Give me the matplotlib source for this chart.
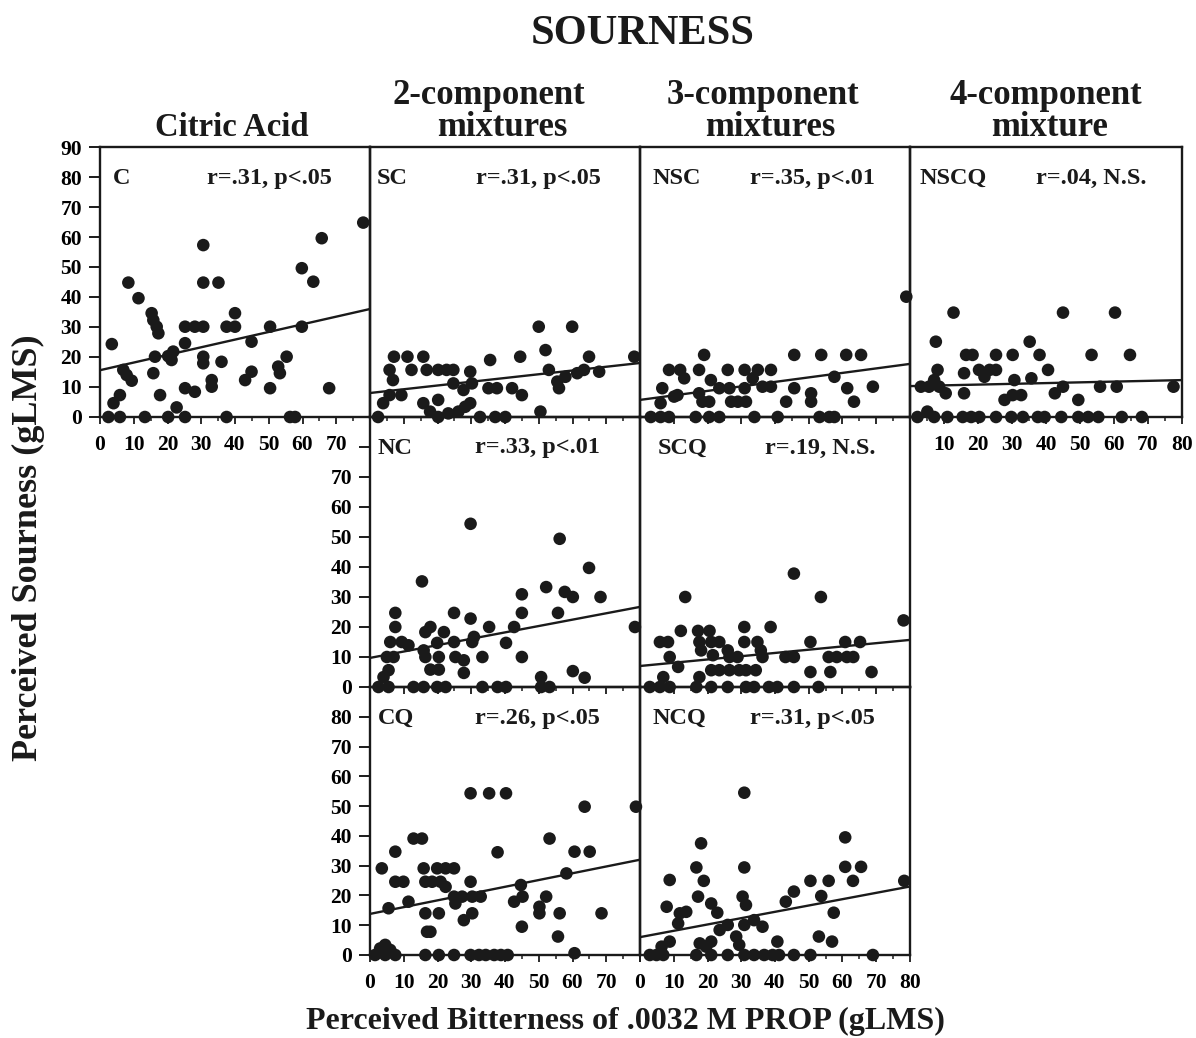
import matplotlib
matplotlib.use("Agg")
import matplotlib.pyplot as plt
from matplotlib.ticker import MultipleLocator

plt.rcParams['font.family'] = ['Liberation Serif', 'DejaVu Serif']
plt.rcParams['font.weight'] = 'bold'

# ---------------- data ----------------
panel_names = ["C", "SC", "NSC", "NSCQ", "NC", "SCQ", "CQ", "NCQ"]
r_texts = ["r=.31, p<.05", "r=.31, p<.05", "r=.35, p<.01", "r=.04, N.S.",
           "r=.33, p<.01", "r=.19, N.S.", "r=.26, p<.05", "r=.31, p<.05"]
# regression line value at x=0 and at x=80
fit_start = [15.6, 8.0, 5.7, 10.3, 9.7, 7.0, 13.8, 6.0]
fit_end = [36.0, 18.0, 17.7, 12.3, 26.7, 15.7, 32.0, 23.0]

column_titles = ["Citric Acid", "2-component", "mixtures", "3-component", "mixtures",
                 "4-component", "mixture"]

c_x = [3.5, 4, 5.9, 8.4, 6.9, 7.9, 9.4, 11.4, 15.3, 15.8, 16.8, 17.3, 16.3, 15.8, 17.8,
       20.2, 21.2, 21.7, 22.7, 25.2, 25.2, 25.2, 28.1, 28.1, 30.6, 30.6, 30.6, 30.6, 30.6,
       33.1, 33.1, 35.1, 36, 37.5, 40, 40, 43, 44.9, 44.9, 50.4, 50.4, 52.8, 53.3, 55.3,
       59.8, 59.8, 63.2, 65.7, 67.9, 78, 2.5, 5.9, 13.3, 20.2, 25.2, 37.5, 56.3, 57.8]
c_y = [24.3, 4.6, 7.3, 44.8, 15.7, 14, 12.1, 39.6, 34.6, 32.3, 30.1, 27.9, 20.1, 14.6, 7.3,
       20.3, 19, 21.8, 3.2, 24.6, 30.1, 9.6, 8.4, 30.1, 30.1, 57.3, 44.8, 20.1, 17.9,
       12.3, 10.1, 44.8, 18.4, 30.1, 30.1, 34.6, 12.3, 15.1, 25.1, 30.1, 9.6, 16.8, 14.6, 20.1,
       49.6, 30.1, 45.1, 59.6, 9.6, 64.8, 0, 0, 0, 0, 0, 0, 0, 0]

sc_x = [2.4, 3.9, 5.8, 5.8, 6.8, 7.1, 9.3, 11.1, 12.3, 15.8, 15.8, 16.8, 17.8, 20.2, 20.2,
        22.7, 20.2, 23.2, 24.7, 24.7, 26.2, 27.7, 28.2, 29.7, 30.2, 29.7, 32.6, 35.1, 35.6,
        37.6, 37.1, 40.1, 42.1, 44.5, 45, 50, 50.5, 52, 53, 55.5, 56, 57.9, 59.9, 61.4,
        63.4, 64.9, 67.9, 78.3]
sc_y = [0, 4.6, 7.3, 15.7, 12.3, 20.1, 7.3, 20.1, 15.7, 20.1, 4.6, 15.7, 1.8, 5.7, 15.7,
        15.7, 0, 1.2, 15.7, 11.2, 1.8, 9, 3.4, 15.1, 11.2, 4.6, 0, 9.6, 19,
        9.6, 0, 0, 9.6, 20.1, 7.3, 30.1, 1.8, 22.3, 15.7, 11.8, 9.6, 13.4, 30.1, 14.6,
        15.7, 20.1, 15.1, 20.1]

nsc_x = [3.2, 6.1, 8.6, 6.1, 6.6, 8.6, 10.1, 11.1, 11.9, 13.1, 16.5, 17.5, 17.5, 19, 18.5,
         20.5, 20.5, 21, 23.5, 23.5, 26, 26.5, 27, 29, 31, 31, 31.4, 33.4, 33.9, 34.9,
         36.3, 38.8, 38.8, 40.8, 43.3, 45.7, 45.7, 50.7, 50.7, 53.2, 53.7, 56.1, 57.6, 57.6,
         61.1, 61.4, 63.4, 65.5, 69, 78.9]
nsc_y = [0, 0, 0, 4.6, 9.6, 15.7, 6.8, 7.3, 15.7, 12.9, 0, 15.7, 7.9, 20.7, 5.1,
         5.1, 0, 12.3, 9.6, 0, 15.7, 9.6, 5.1, 5.1, 15.7, 9.6, 5.1, 12.9, 0, 15.7,
         10.1, 15.7, 10.1, 0, 5.1, 20.7, 9.6, 7.9, 5.1, 0, 20.7, 0, 0, 13.4,
         20.7, 9.6, 5.1, 20.7, 10.1, 40.1]

nscq_x = [2.2, 5.1, 7.1, 3.2, 5.6, 8.1, 7.1, 7.6, 8.6, 10.5, 11, 12.8, 15.5, 15.9, 15.9,
          16.5, 18.4, 18, 20.3, 20.4, 21.9, 23.4, 25.3, 25.3, 25.3, 27.8, 29.8, 30.2, 30.2,
          30.7, 32.7, 33.2, 35.2, 35.7, 38.1, 37.6, 39.6, 40.6, 42.6, 44.5, 45, 45, 49.5,
          49.5, 52.4, 53.4, 55.4, 55.9, 60.3, 60.8, 62.3, 64.7, 68.2, 77.5]
nscq_y = [0, 1.8, 0, 10.1, 10.1, 15.7, 12.3, 25.1, 10.1, 7.9, 0, 34.8, 0, 7.9, 14.6,
          20.7, 20.7, 0, 15.7, 0, 13.4, 15.7, 15.7, 0, 20.7, 5.7, 0, 20.7, 7.3,
          12.3, 7.3, 0, 25.1, 12.9, 20.7, 0, 0, 15.7, 7.9, 0, 34.8, 10.1, 5.7,
          0, 0, 20.7, 0, 10.1, 34.8, 10.1, 0, 20.7, 0, 10.1]

nc_x = [2.5, 5.5, 4, 5.5, 5, 7, 6, 7.5, 7.5, 9.4, 11.4, 12.9, 15.9, 15.4, 15.9, 16.4, 16.4,
        17.9, 17.9, 19.9, 19.9, 20.4, 20.4, 21.9, 22.4, 24.9, 24.9, 25.3, 27.8, 27.8, 29.8,
        29.8, 30.3, 30.8, 33.3, 33.3, 35.3, 37.8, 40.3, 40.3, 42.7, 45, 45, 45, 50.7, 50.7,
        53.2, 52.2, 55.7, 56.2, 57.7, 60.1, 60.1, 63.6, 64.9, 68.3, 78.5]
nc_y = [0, 0, 3.3, 5.6, 10, 10, 15, 20, 24.7, 15, 13.9, 0, 0, 35.2, 12.2, 10, 18.3,
        20, 5.8, 0, 14.7, 10, 5.8, 18.3, 0, 24.7, 15, 10, 8.9, 4.7, 54.4,
        22.8, 15, 16.7, 10, 0, 20, 0, 0, 14.7, 20, 24.7, 30.9, 10, 3.3, 0,
        0, 33.3, 24.7, 49.4, 31.7, 30, 5.3, 3.1, 39.7, 30, 20]

scq_x = [2.9, 5.9, 6.9, 8.8, 5.9, 8.3, 8.8, 11.3, 12.1, 13.4, 16.7, 17.6, 17.2, 17.6, 18.1,
         20.6, 21.1, 21.1, 21.6, 21.1, 23.5, 23.5, 26, 26, 26.5, 26.5, 28.9, 29.4, 30.9,
         30.9, 31.4, 31.4, 33.8, 34.3, 34.8, 35.8, 36.3, 38.2, 38.7, 40.7, 43.1, 45.6, 45.6,
         45.6, 50.5, 50.5, 52.9, 53.6, 55.9, 56.4, 58.3, 60.8, 61.3, 63.2, 65.2, 68.6, 78.1]
scq_y = [0, 0, 3.3, 0, 15, 15, 10, 6.7, 18.7, 30, 0, 3.3, 18.7, 15, 12.2,
         18.7, 15, 5.6, 10.6, 0, 5.6, 15, 12.2, 0, 10, 5.6, 10, 5.6, 20,
         15, 5.6, 0, 0, 5.6, 15, 12.2, 10, 0, 20, 0, 10, 10, 0,
         37.8, 15, 5, 0, 30, 10, 5, 10, 15, 10, 10, 15, 5, 22.2]

cq_x = [1.5, 3.5, 3, 4.5, 4.5, 6, 7.5, 5.5, 7.5, 7.5, 9.9, 11.4, 12.9, 15.4, 15.9, 16.4,
        16.4, 16.9, 17.9, 16.4, 18.4, 19.9, 20.4, 20.4, 20.9, 22.4, 22.4, 24.9, 24.9, 24.9,
        25.3, 27.3, 27.8, 29.8, 29.8, 30.3, 30.3, 29.8, 32.3, 32.8, 35.3, 34.3, 36.8, 37.8,
        38.8, 40.3, 40.8, 42.7, 44.7, 45.2, 45, 50.2, 50.2, 52.2, 53.2, 55.7, 56.2, 58.2,
        60.6, 60.6, 63.6, 65.1, 68.6, 78.8]
cq_y = [0, 29.1, 2.2, 3.4, 0, 1.7, 0, 15.7, 34.7, 24.6, 24.6, 17.9, 39.1, 39.1, 29.1, 24.6,
        14, 7.8, 7.8, 0, 24.6, 29.1, 14, 0, 24.6, 29.1, 22.9, 29.1, 0, 19.6,
        17.3, 19.6, 11.7, 54.3, 24.6, 19.6, 14, 0, 0, 19.6, 54.3, 0, 0, 34.5,
        0, 54.3, 0, 17.9, 23.5, 19.6, 9.5, 16.2, 14, 19.6, 39.1, 6.2, 14, 27.4,
        34.7, 0.6, 49.8, 34.7, 14, 49.8]

ncq_x = [2.9, 4.9, 6.9, 6.4, 8.8, 8.8, 7.9, 11.3, 11.8, 13.7, 16.7, 17.7, 16.7, 17.2, 18.1,
         18.9, 19.6, 21.1, 21.1, 21.1, 22.9, 23.6, 26, 26, 28.5, 29.4, 30.9, 30.9, 30.4,
         31.4, 30.9, 30.9, 33.8, 36.3, 33.8, 36.8, 39.3, 40.7, 41.2, 43.2, 45.6, 45.6, 50.5,
         50.5, 53, 53.7, 55.9, 56.9, 57.4, 60.8, 60.8, 63.1, 65.5, 69, 78.3]
ncq_y = [0, 0, 0, 2.8, 4.5, 25.2, 16.2, 10.6, 14, 14.5, 0, 3.9, 29.4, 19.6, 37.5,
         24.9, 2.8, 4.5, 0, 17.3, 14.2, 8.4, 0, 10.1, 6.2, 3.4, 54.5, 29.4, 19.6,
         16.8, 10.1, 0, 11.7, 9.5, 0, 0, 0, 4.5, 0, 17.9, 21.3, 0, 0,
         24.9, 6.2, 19.8, 24.9, 4.5, 14.2, 39.5, 29.6, 24.9, 29.6, 0, 24.9]

panel_x = [c_x, sc_x, nsc_x, nscq_x, nc_x, scq_x, cq_x, ncq_x]
panel_y = [c_y, sc_y, nsc_y, nscq_y, nc_y, scq_y, cq_y, ncq_y]

x_ticks = [0, 10, 20, 30, 40, 50, 60, 70, 80]
y_ticks = [0, 10, 20, 30, 40, 50, 60, 70, 80, 90]

# ---------------- layout (pixels of the 1196x1038 canvas) ----------------
W, H = 1196, 1038
fig = plt.figure(figsize=(W / 100, H / 100), dpi=100)
fig.patch.set_facecolor('white')

boxes = [(100, 147, 370, 417), (370, 147, 640, 417), (640, 147, 910, 417), (910, 147, 1182, 417),
         (370, 417, 640, 687), (640, 417, 910, 687),
         (370, 687, 640, 955), (640, 687, 910, 955)]
# which labels each panel shows
xlab_mode = ["0-70", None, None, "10-80", None, None, "0-70", "0-80"]
ylab_mode = ["0-90", None, None, None, "0-70", None, "0-80", None]
name_off = [13, 7, 13, 10, 8, 18, 8, 13]
r_off = [107, 106, 110, 126, 105, 125, 105, 110]

ink = '#1a1a1a'
tick_fs = 15.5

for i in range(8):
    x0, y0, x1, y1 = boxes[i]
    ax = fig.add_axes([x0 / W, 1 - y1 / H, (x1 - x0) / W, (y1 - y0) / H])
    ax.set_xlim(0, 80)
    ax.set_ylim(0, 90)
    ax.set_facecolor('none')
    for s in ax.spines.values():
        s.set_linewidth(1.7)
        s.set_color(ink)
    ax.scatter(panel_x[i], panel_y[i], s=82, color=ink, edgecolors='none',
               clip_on=False, zorder=5)
    ax.plot([0, 80], [fit_start[i], fit_end[i]], color=ink, lw=1.7, zorder=4,
            solid_capstyle='butt')

    # x ticks
    ax.xaxis.set_minor_locator(MultipleLocator(5))
    ax.set_xticks(x_ticks)
    ax.tick_params(axis='x', which='major', direction='out', length=5, width=1.3,
                   color=ink, pad=8, labelsize=tick_fs)
    ax.tick_params(axis='x', which='minor', direction='out', length=3, width=1.1, color=ink)
    ax.tick_params(axis='x', top=False, which='both')
    mode = xlab_mode[i]
    if mode is None:
        ax.set_xticklabels([])
    else:
        lab = []
        for t in x_ticks:
            if mode == "0-70":
                lab.append(str(t) if t <= 70 else '')
            elif mode == "10-80":
                lab.append(str(t) if t >= 10 else '')
            else:
                lab.append(str(t))
        ax.set_xticklabels(lab, fontweight='bold')

    # y ticks
    ym = ylab_mode[i]
    if ym is None:
        ax.set_yticks([])
    else:
        if ym == "0-90":
            yt = y_ticks
            yl = [str(t) for t in yt]
        elif ym == "0-70":
            yt = y_ticks[:9]
            yl = [str(t) if t <= 70 else '' for t in yt]
        else:
            yt = y_ticks[:9]
            yl = [str(t) for t in yt]
        ax.set_yticks(yt)
        ax.set_yticklabels(yl, fontweight='bold')
        ax.tick_params(axis='y', direction='out', length=8, width=1.4, color=ink,
                       pad=5, labelsize=tick_fs)
    ax.tick_params(axis='y', right=False)

    h = y1 - y0
    wpx = x1 - x0
    ax.text(name_off[i] / wpx, 1 - 31 / h, panel_names[i], transform=ax.transAxes,
            fontsize=17.5, fontweight='bold', ha='left', va='center', color=ink, zorder=6)
    ax.text(r_off[i] / wpx, 1 - 31 / h, r_texts[i], transform=ax.transAxes,
            fontsize=17.5, fontweight='bold', ha='left', va='center', color=ink, zorder=6)


def ftext(x, y, s, **kw):
    fig.text(x / W, 1 - y / H, s, ha='center', va='center', color=ink,
             fontweight='bold', **kw)


ftext(643, 34, "SOURNESS", fontsize=30.5)
ftext(232, 128, column_titles[0], fontsize=23.5)
ftext(489, 95, column_titles[1], fontsize=25)
ftext(502, 127, column_titles[2], fontsize=25)
ftext(763, 95, column_titles[3], fontsize=25)
ftext(770, 127, column_titles[4], fontsize=25)
ftext(1046, 95, column_titles[5], fontsize=25)
ftext(1050, 127, column_titles[6], fontsize=25)
ftext(28, 548, "Perceived Sourness (gLMS)", fontsize=26, rotation=90)
ftext(625, 1021, "Perceived Bitterness of .0032 M PROP (gLMS)", fontsize=23)

fig.savefig("out.png", dpi=100, facecolor='white')
